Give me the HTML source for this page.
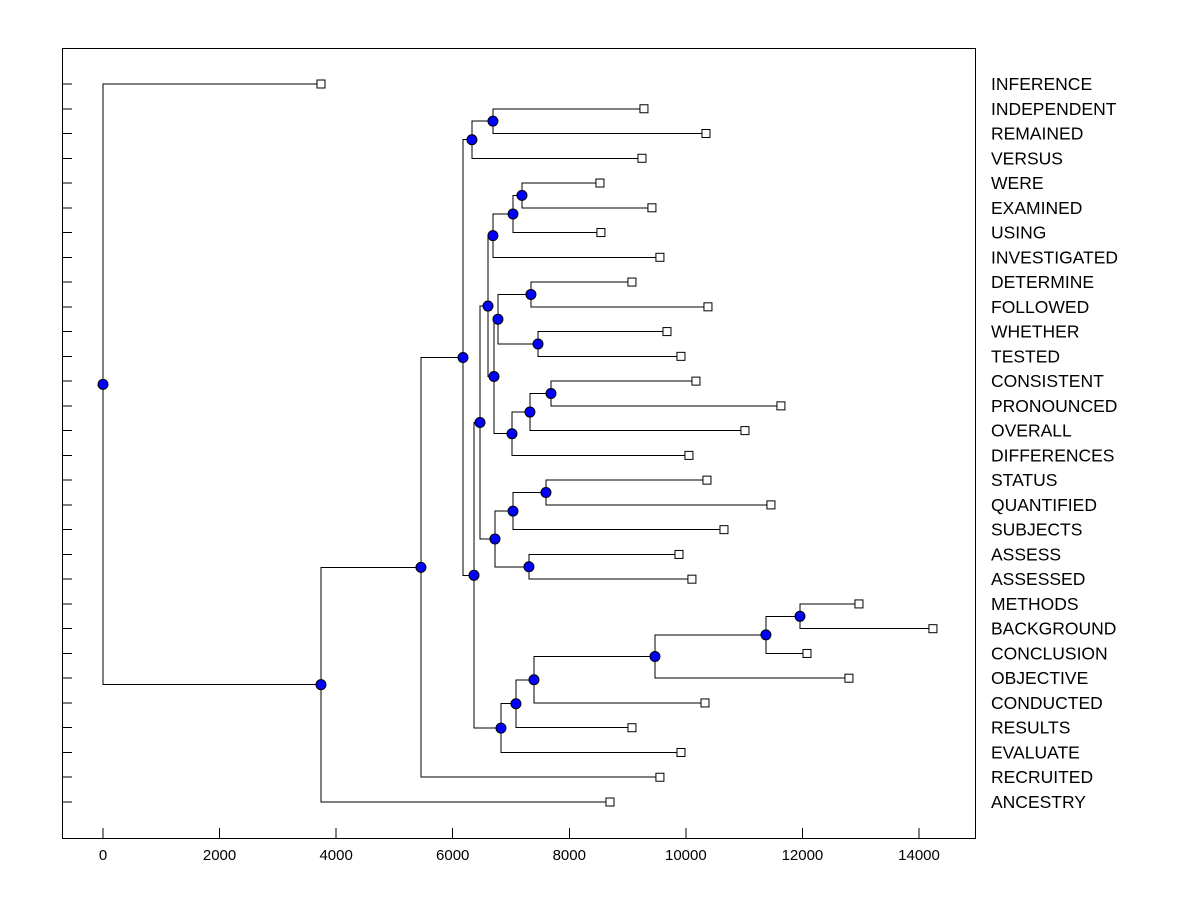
<!DOCTYPE html>
<html><head><meta charset="utf-8"><style>
body{margin:0;background:#fff}
svg{display:block;font-family:"Liberation Sans",sans-serif}
</style></head><body>
<svg id="chart" width="1200" height="900"></svg>
<script>
const leafNames=["INFERENCE","INDEPENDENT","REMAINED","VERSUS","WERE","EXAMINED","USING","INVESTIGATED","DETERMINE","FOLLOWED","WHETHER","TESTED","CONSISTENT","PRONOUNCED","OVERALL","DIFFERENCES","STATUS","QUANTIFIED","SUBJECTS","ASSESS","ASSESSED","METHODS","BACKGROUND","CONCLUSION","OBJECTIVE","CONDUCTED","RESULTS","EVALUATE","RECRUITED","ANCESTRY"];
const leafValues=[3740,9281,10345,9247,8526,9418,8543,9555,9075,10379,9676,9916,10173,11631,11014,10053,10362,11460,10654,9882,10104,12970,14239,12078,12798,10328,9075,9916,9555,8698];
const mergeIds=["n1","n2","n3","n4","n5","n6","n7","n8","n9","n10","n11","n12","n13","n14","n15","n16","n17","n18","n19","n20","n21","n22","n23","n24","n25","n26","n27","n27b","root"];
const mergeA=["INDEPENDENT","n1","WERE","n3","n4","DETERMINE","WHETHER","n6","CONSISTENT","n9","n10","n8","n5","STATUS","n14","ASSESS","n15","n13","METHODS","n19","n20","n21","n22","n23","n18","n2","n26","n27","INFERENCE"];
const mergeB=["REMAINED","VERSUS","EXAMINED","USING","INVESTIGATED","FOLLOWED","TESTED","n7","PRONOUNCED","OVERALL","DIFFERENCES","n11","n12","QUANTIFIED","SUBJECTS","ASSESSED","n16","n17","BACKGROUND","CONCLUSION","OBJECTIVE","CONDUCTED","RESULTS","EVALUATE","n24","n25","RECRUITED","ANCESTRY","n27b"];
const mergeH=[6690,6330,7188,7034,6690,7342,7463,6776,7686,7325,7017,6708,6605,7600,7034,7308,6725,6468,11958,11374,9470,7394,7085,6828,6365,6176,5455,3740,0];
const xTicks=[0,2000,4000,6000,8000,10000,12000,14000];

const svg=document.getElementById('chart');
const NS="http://www.w3.org/2000/svg";
const L=62,R=975,T=48,B=838;
const x=v=>103+v*(816/14000);
const y=i=>84+i*(718/29);
function el(t,a,p){const e=document.createElementNS(NS,t);for(const k in a)e.setAttribute(k,a[k]);(p||svg).appendChild(e);return e;}
const axes=el('g',{'shape-rendering':'crispEdges'});


const frame=el('rect',{x:L+0.5,y:T+0.5,width:R-L,height:B-T,fill:'none',stroke:'#000','stroke-width':1},axes);


xTicks.forEach(v=>{
  const tl=el('line',{x1:x(v),x2:x(v),y1:B,y2:B-10,stroke:'#000'},axes);
  
  
  const tx=el('text',{x:x(v),y:B+22,'text-anchor':'middle','font-size':15},axes);
  tx.textContent=v;
  
  
});
const pos={};
leafNames.forEach((n,i)=>{pos[n]={x:x(leafValues[i]),y:y(i)};
  const t=el('line',{x1:L,x2:L+10,y1:y(i),y2:y(i),stroke:'#000'},axes);
  
  
  const lb=el('text',{x:991,y:y(i)+6,'font-size':17.5},axes);
  lb.textContent=n;
  
  
});
const merges=mergeIds.map((id,i)=>({id,a:mergeA[i],b:mergeB[i],h:mergeH[i]}));
const lines=el('g',{'shape-rendering':'crispEdges'}),marks=el('g',{});




const dots=[];
merges.forEach(m=>{
  const a=pos[m.a],b=pos[m.b],nx=x(m.h);
  const ny=(a.y+b.y)/2;pos[m.id]={x:nx,y:ny};
  const p=el('path',{d:`M${a.x},${a.y}H${nx}V${b.y}H${b.x}`,fill:'none',stroke:'#000','stroke-width':1},lines);
  
  
  dots.push([nx,ny]);
});
leafNames.forEach(n=>{
  const s=el('rect',{x:pos[n].x-4,y:pos[n].y-4,width:8,height:8,fill:'#fff',stroke:'#000'},marks);
  
  
});
dots.forEach(([cx,cy])=>{
  const c=el('circle',{cx,cy,r:5,fill:'#0000ff',stroke:'#000','stroke-width':1},marks);
  
  
});
</script>
</body></html>
